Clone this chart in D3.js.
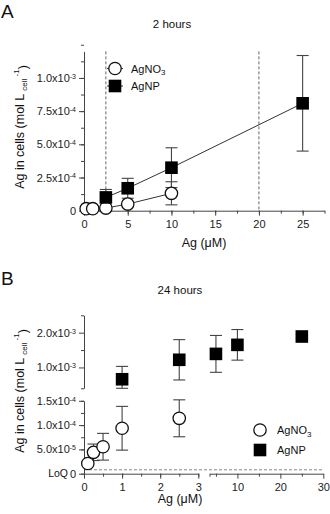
<!DOCTYPE html>
<html>
<head>
<meta charset="utf-8">
<script src="https://cdn.jsdelivr.net/npm/d3@7"></script>
<style>
  body { margin: 0; background: #fff; }
  svg { font-family: "Liberation Sans", Arial, sans-serif; }
  .axis path, .axis line { stroke: #444; stroke-width: 1; }
  .axis text { fill: #222; font-size: 11px; }
</style>
</head>
<body>
<svg id="chart" width="330" height="514"></svg>
<script>
// panel A, 2 hours
var doseA_no3 = [0.25, 1, 2.5, 5, 10];
var agno3A = [1.5e-5, 1.5e-5, 2e-5, 5e-5, 1.31e-4];
var agno3A_sd = [0.5e-5, 0.5e-5, 1e-5, 1e-5, 8.7e-5];
var doseA_np = [2.5, 5, 10, 25];
var agnpA = [1.0e-4, 1.69e-4, 3.24e-4, 8.09e-4];
var agnpA_sd = [6e-5, 7.5e-5, 1.5e-4, 3.6e-4];
var cutoffsA = [2.5, 20];

// panel B, 24 hours
var doseB_no3 = [0.1, 0.25, 0.5, 1, 2.5];
var agno3B = [2.1e-5, 4.4e-5, 5.55e-5, 9.35e-5, 1.14e-4];
var agno3B_sd = [0.4e-5, 1.7e-5, 2.75e-5, 4.5e-5, 3.8e-5];
var doseB_np = [1, 2.5, 5, 10, 25];
var agnpB = [0.66e-3, 1.22e-3, 1.39e-3, 1.65e-3, 1.89e-3];
var agnpB_sd = [0.37e-3, 0.58e-3, 0.53e-3, 0.44e-3, 0.06e-3];
var loq = 8e-6;

var ticksA_x = [0, 5, 10, 15, 20, 25];
var ticksA_y = [0, 2.5e-4, 5e-4, 7.5e-4, 1e-3];
var ticksB_x1 = [0, 1, 2, 3];
var ticksB_x2 = [10, 20, 30];
var ticksB_ylow = [0, 5e-5, 1e-4, 1.5e-4];
var ticksB_yhigh = [1e-3, 2e-3];

var svg = d3.select("#chart");

// scales
var xA = d3.scaleLinear().domain([0, 27.5]).range([84, 324.5]);
var yA = d3.scaleLinear().domain([0, 1.2e-3]).range([210.7, 51.4]);

var xB1 = d3.scaleLinear().domain([0, 3]).range([84, 198.3]);
var xB2 = d3.scaleLinear().domain([3.5, 30]).range([209.5, 323.3]);
var xB = function(v) { return v <= 3 ? xB1(v) : xB2(v); };
var yBlow = d3.scaleLinear().domain([0, 1.5e-4]).range([473.7, 400.8]);
var yBhigh = d3.scaleLinear().domain([0.4e-3, 2.5e-3]).range([388.3, 315.3]).clamp(true);

// "2.5x10^-4" style labels
function sciLabel(sel) {
  sel.each(function(d) {
    var t = d3.select(this);
    if (d === 0) { t.text("0"); return; }
    var parts = d.toExponential(1).split("e");
    t.text(null);
    t.append("tspan").text(parts[0] + "x10");
    t.append("tspan").attr("dy", "-0.45em").attr("font-size", "7px").text(parts[1]);
  });
}

function minors(a, b, step) {
  return d3.range(a, b + step / 2, step);
}

function drawX(scale, major, minor, y) {
  var g = svg.append("g").attr("class", "axis").attr("transform", "translate(0," + y + ")");
  g.call(d3.axisBottom(scale).tickValues(minor).tickSize(3).tickSizeOuter(0).tickFormat(""));
  g.append("g").call(d3.axisBottom(scale).tickValues(major).tickSize(5).tickSizeOuter(0)
      .tickPadding(5).tickFormat(d3.format("~g")))
    .select(".domain").remove();
  g.selectAll("text").attr("font-family", null).attr("font-size", null);
  return g;
}

function drawY(scale, major, minor, x) {
  var g = svg.append("g").attr("class", "axis").attr("transform", "translate(" + x + ",0)");
  g.call(d3.axisLeft(scale).tickValues(minor).tickSize(3).tickSizeOuter(0).tickFormat(""));
  var m = g.append("g").call(d3.axisLeft(scale).tickValues(major).tickSize(5).tickSizeOuter(0).tickPadding(3));
  m.select(".domain").remove();
  m.selectAll(".tick text").attr("font-family", null).attr("font-size", null).call(sciLabel);
  return g;
}

function errorBars(xs, ys, sds, xs_, ys_) {
  var g = svg.append("g").attr("stroke", "#444").attr("stroke-width", 1.1);
  xs.forEach(function(x, i) {
    var cx = xs_(x), top = ys_(ys[i] + sds[i]), bot = ys_(ys[i] - sds[i]);
    g.append("line").attr("x1", cx).attr("x2", cx).attr("y1", top).attr("y2", bot);
    g.append("line").attr("x1", cx - 6).attr("x2", cx + 6).attr("y1", top).attr("y2", top);
    g.append("line").attr("x1", cx - 6).attr("x2", cx + 6).attr("y1", bot).attr("y2", bot);
  });
}

function markers(xs, ys, xs_, ys_, shape) {
  var g = svg.append("g");
  xs.forEach(function(x, i) {
    if (shape === "circle") {
      g.append("circle").attr("cx", xs_(x)).attr("cy", ys_(ys[i])).attr("r", 6.2)
        .attr("fill", "#fff").attr("stroke", "#111").attr("stroke-width", 1.3);
    } else {
      g.append("rect").attr("x", xs_(x) - 6.3).attr("y", ys_(ys[i]) - 6.3)
        .attr("width", 12.6).attr("height", 12.6).attr("fill", "#000");
    }
  });
}

function connect(xs, ys, xs_, ys_) {
  var line = d3.line().x(function(d) { return xs_(d[0]); }).y(function(d) { return ys_(d[1]); });
  svg.append("path").datum(d3.zip(xs, ys)).attr("d", line)
    .attr("fill", "none").attr("stroke", "#333").attr("stroke-width", 1);
}

function yLabel(cx, cy) {
  var t = svg.append("text").attr("transform", "translate(" + cx + "," + cy + ") rotate(-90)")
    .attr("text-anchor", "middle").attr("font-size", "12.5px").attr("fill", "#111");
  t.append("tspan").text("Ag in cells (mol L ");
  t.append("tspan").attr("font-size", "8px").attr("dy", "0.35em").text("cell");
  t.append("tspan").attr("font-size", "8px").attr("dy", "-1em").text(" -1");
  t.append("tspan").attr("dy", "0.65em").text(")");
}

function text(x, y, s, size, anchor) {
  return svg.append("text").attr("x", x).attr("y", y).attr("font-size", size)
    .attr("text-anchor", anchor || "start").attr("fill", "#111").text(s);
}

// ---------- Panel A ----------
text(1, 18, "A", "19px");
text(172, 28, "2 hours", "11.5px", "middle");

svg.append("g").selectAll("line").data(cutoffsA).enter().append("line")
  .attr("x1", function(d) { return xA(d); }).attr("x2", function(d) { return xA(d); })
  .attr("y1", yA(1.2e-3)).attr("y2", yA(0))
  .attr("stroke", "#666").attr("stroke-width", 1).attr("stroke-dasharray", "3,2");

drawX(xA, ticksA_x, minors(0, 27.5, 2.5), yA(0));
drawY(yA, ticksA_y, minors(0, 1.2e-3, 1.25e-4), xA(0));

connect(doseA_no3, agno3A, xA, yA);
connect(doseA_np, agnpA, xA, yA);
errorBars(doseA_no3, agno3A, agno3A_sd, xA, yA);
errorBars(doseA_np, agnpA, agnpA_sd, xA, yA);
markers(doseA_no3, agno3A, xA, yA, "circle");
markers(doseA_np, agnpA, xA, yA, "square");

// legend A
svg.append("line").attr("x1", 107).attr("x2", 123).attr("y1", 68.5).attr("y2", 68.5).attr("stroke", "#333");
svg.append("circle").attr("cx", 115).attr("cy", 68.5).attr("r", 6.2).attr("fill", "#fff").attr("stroke", "#111").attr("stroke-width", 1.3);
svg.append("line").attr("x1", 107).attr("x2", 123).attr("y1", 86).attr("y2", 86).attr("stroke", "#333");
svg.append("rect").attr("x", 108.7).attr("y", 79.7).attr("width", 12.6).attr("height", 12.6).attr("fill", "#000");
var la = text(131, 72.5, "AgNO", "11px");
la.append("tspan").attr("font-size", "8px").attr("dy", "0.35em").text("3");
text(131, 90, "AgNP", "11px");

yLabel(24, 127);
text(204, 247, "Ag (\u03bcM)", "12.5px", "middle");

// ---------- Panel B ----------
text(1, 285, "B", "19px");
text(180, 294, "24 hours", "11.5px", "middle");

// LoQ line across the broken x axis
svg.append("line").attr("x1", xB1(0)).attr("x2", xB2(30))
  .attr("y1", yBlow(loq)).attr("y2", yBlow(loq))
  .attr("stroke", "#888").attr("stroke-width", 1).attr("stroke-dasharray", "3,2");

drawX(xB1, ticksB_x1, minors(0, 3, 0.5), yBlow(0));
drawX(xB2, ticksB_x2, [5, 15, 25, 3.5], yBlow(0));
drawY(yBlow, ticksB_ylow, minors(0, 1.5e-4, 2.5e-5), xB1(0));
drawY(yBhigh, ticksB_yhigh, [0.4e-3, 1.5e-3, 2.5e-3], xB1(0));

text(68, yBlow(0) + 3, "LoQ", "10.5px", "end");

errorBars(doseB_no3, agno3B, agno3B_sd, xB, yBlow);
errorBars(doseB_np, agnpB, agnpB_sd, xB, yBhigh);
markers(doseB_no3, agno3B, xB, yBlow, "circle");
markers(doseB_np, agnpB, xB, yBhigh, "square");

// legend B
svg.append("circle").attr("cx", 260).attr("cy", 430).attr("r", 6.2).attr("fill", "#fff").attr("stroke", "#111").attr("stroke-width", 1.3);
svg.append("rect").attr("x", 253.7).attr("y", 443.7).attr("width", 12.6).attr("height", 12.6).attr("fill", "#000");
var lb = text(277, 434, "AgNO", "11px");
lb.append("tspan").attr("font-size", "8px").attr("dy", "0.35em").text("3");
text(277, 454, "AgNP", "11px");

yLabel(24, 391);
text(180, 503, "Ag (\u03bcM)", "12.5px", "middle");
</script>
</body>
</html>
